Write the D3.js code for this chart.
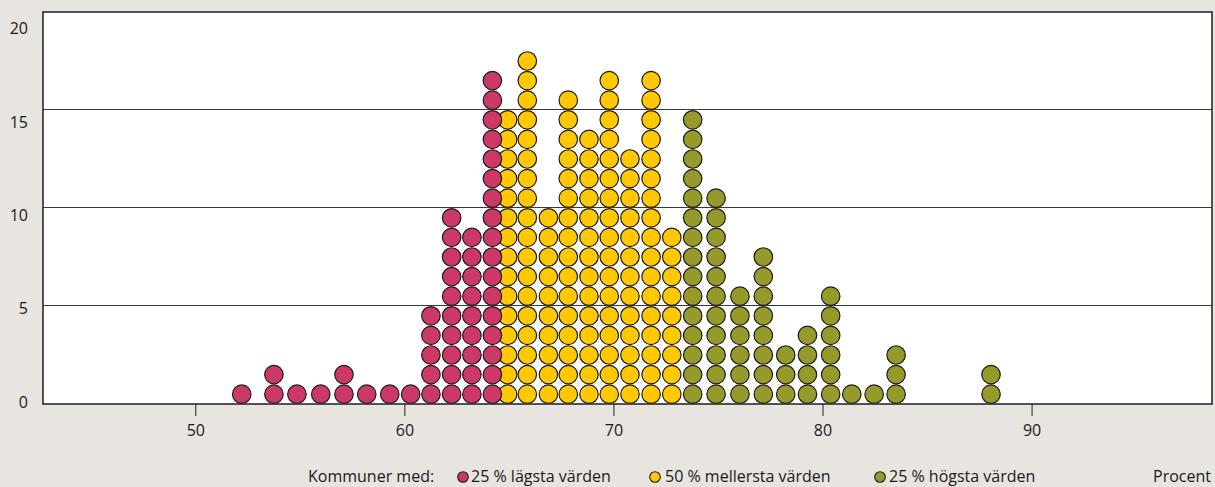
<!DOCTYPE html>
<html>
<head>
<meta charset="utf-8">
<script src="https://cdn.jsdelivr.net/npm/d3@7"></script>
<style>
  html, body { margin: 0; padding: 0; background: #e8e4df; }
  svg { display: block; }
  text { font-family: "Open Sans", sans-serif; fill: #1a1a1a; }
</style>
</head>
<body>
<svg id="chart" width="1215" height="487"></svg>
<script>
// ---- data ----
const lowX    = [52.22, 53.76, 54.86, 56.0, 57.11, 58.2, 59.3, 60.3, 61.27, 62.26, 63.23, 64.21];
const lowN    = [1, 2, 1, 1, 2, 1, 1, 1, 5, 10, 9, 17];
const midX    = [64.94, 65.88, 66.89, 67.84, 68.83, 69.8, 70.79, 71.8, 72.79];
const midN    = [15, 18, 10, 16, 14, 17, 13, 17, 9];
const highX   = [73.79, 74.91, 76.05, 77.17, 78.24, 79.28, 80.39, 81.4, 82.47, 83.52, 88.06];
const highN   = [15, 11, 6, 8, 3, 4, 6, 1, 1, 3, 2];
const xTicks  = [50, 60, 70, 80, 90];
const yTicks  = [0, 5, 10, 15, 20];
const legendLabels = ["25 % lägsta värden", "50 % mellersta värden", "25 % högsta värden"];
const legendTitle = "Kommuner med:";
const unitLabel = "Procent";

const colors = { low: "#cc3966", mid: "#ffc800", high: "#969a2a" };

const svg = d3.select("#chart");
const L = 43, R = 1212, T = 12, B = 404;

const x = d3.scaleLinear().domain([42.715, 98.63]).range([L, R]);
const y = d3.scaleLinear().domain([0, 20]).range([B, T]);
const yLab = d3.scaleLinear().domain([0, 20]).range([402, 28.5]);

// plot background
svg.append("rect").attr("x", L).attr("y", T).attr("width", R - L).attr("height", B - T)
  .attr("fill", "#ffffff");

// gridlines
svg.append("g").selectAll("line").data(yTicks.filter(d => d > 0 && d < 20)).join("line")
  .attr("x1", L).attr("x2", R)
  .attr("y1", d => Math.round(y(d)) - 0.5).attr("y2", d => Math.round(y(d)) - 0.5)
  .attr("stroke", "#3a3a3a").attr("stroke-width", 1);

// dots
function expand(xs, ns, key) {
  const out = [];
  xs.forEach((v, i) => { for (let k = 0; k < ns[i]; k++) out.push({ v, k, key }); });
  return out;
}
const r = (y(0) - y(1)) / 2;
const groups = [
  expand(midX, midN, "mid"),
  expand(lowX, lowN, "low"),
  expand(highX, highN, "high")
];
groups.forEach(g => {
  svg.append("g").selectAll("circle").data(g).join("circle")
    .attr("cx", d => x(d.v))
    .attr("cy", d => y(d.k + 0.5))
    .attr("r", r - 0.55)
    .attr("fill", d => colors[d.key])
    .attr("stroke", "#1c1c1c")
    .attr("stroke-width", 1.2);
});

// frame
svg.append("rect").attr("x", L).attr("y", T).attr("width", R - L).attr("height", B - T)
  .attr("fill", "none").attr("stroke", "#2a2a2a").attr("stroke-width", 1.6);

// x axis
const xAxis = d3.axisBottom(x).tickValues(xTicks).tickSize(12).tickPadding(9).tickFormat(d3.format("d"));
const gx = svg.append("g").attr("transform", `translate(0,${B})`).call(xAxis);
gx.select(".domain").remove();
gx.selectAll(".tick line").attr("stroke", "#222");
gx.selectAll(".tick text").attr("font-size", 16).attr("font-family", "Open Sans").attr("fill", "#1a1a1a");

// y axis labels
const yAxis = d3.axisLeft(yLab).tickValues(yTicks).tickSize(0).tickPadding(0);
const gy = svg.append("g").attr("transform", `translate(28,0)`).call(yAxis);
gy.select(".domain").remove();
gy.selectAll(".tick text").attr("font-size", 16).attr("font-family", "Open Sans").attr("fill", "#1a1a1a");

// legend
const LY = 482;
const lg = svg.append("g");
lg.append("text").attr("x", 308).attr("y", LY).attr("font-size", 16).text(legendTitle);
const legItems = [
  { cx: 463, tx: 471, key: "low" },
  { cx: 655, tx: 665, key: "mid" },
  { cx: 880, tx: 889, key: "high" }
];
legItems.forEach((it, i) => {
  lg.append("circle").attr("cx", it.cx).attr("cy", LY - 5).attr("r", 5.3)
    .attr("fill", colors[it.key]).attr("stroke", "#1c1c1c").attr("stroke-width", 1.1);
  lg.append("text").attr("x", it.tx).attr("y", LY).attr("font-size", 16).text(legendLabels[i]);
});
lg.append("text").attr("x", 1211).attr("y", LY).attr("font-size", 16)
  .attr("text-anchor", "end").text(unitLabel);
</script>
</body>
</html>
